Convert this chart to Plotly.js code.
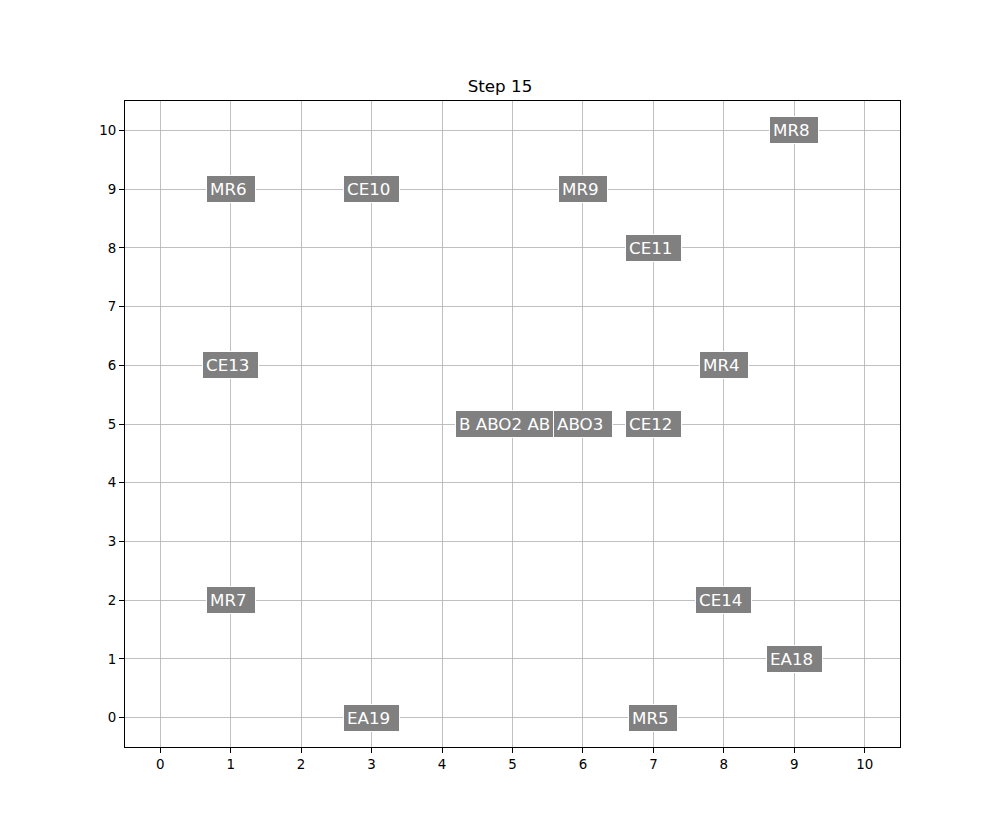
<!DOCTYPE html>
<html><head><meta charset="utf-8">
<script src="https://cdn.plot.ly/plotly-3.0.1.min.js"></script>
<style>body{margin:0;background:#fff}#c{width:1000px;height:839px}</style>
</head><body><div id="c"></div>
<script>
const labels = ["MR8","MR6","CE10","MR9","CE11","CE13","MR4","B ABO2 AB","ABO3","CE12","MR7","CE14","EA18","EA19","MR5"];
const xs =     [9,    1,    3,     6,    7,     1,     8,    5,          6,     7,     1,    8,     9,     3,     7];
const ys =     [10,   9,    9,     9,    8,     6,     6,    5,          5,     5,     2,    2,     1,     0,     0];
const tickVals = [0,1,2,3,4,5,6,7,8,9,10];
const titleText = "Step 15";

const annotations = labels.map((t,i)=>({
  x: xs[i], y: ys[i], xref:'x', yref:'y',
  text: t + (t.length > 6 ? '&nbsp;&nbsp;&nbsp;' : '&nbsp;'), showarrow:false,
  xanchor:'center', yanchor:'middle', align:'left',
  font:{family:'DejaVu Sans', size:16.7, color:'#ffffff'},
  bgcolor:'#808080', bordercolor:'#ffffff', borderwidth:1, borderpad:3
}));

const axisCommon = {
  range:[-0.5,10.5], tickvals:tickVals, ticktext:tickVals.map(String),
  showgrid:true, gridcolor:'#b0b0b0', gridwidth:0.8, zeroline:false,
  showline:true, linecolor:'#000', linewidth:1, mirror:true,
  ticks:'outside', ticklen:5, tickcolor:'#000', tickwidth:1,
  tickfont:{family:'DejaVu Sans', size:13.4, color:'#000'}
};

Plotly.newPlot('c', [{x:xs, y:ys, type:'scatter', mode:'markers', marker:{opacity:0}, hoverinfo:'skip', showlegend:false}], {
  width:1000, height:839,
  margin:{l:125, r:100, t:101, b:92},
  paper_bgcolor:'#fff', plot_bgcolor:'#fff',
  title:{text:titleText, font:{family:'DejaVu Sans', size:16.7, color:'#000'}, x:0.5, xanchor:'center', y:1-86/839, yanchor:'middle'},
  xaxis:Object.assign({}, axisCommon),
  yaxis:Object.assign({}, axisCommon),
  annotations: annotations,
  showlegend:false
}, {staticPlot:true});
</script></body></html>
